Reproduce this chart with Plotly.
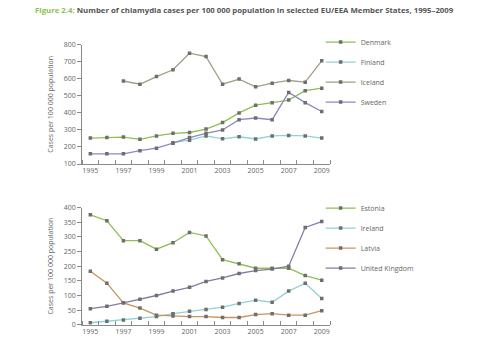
import plotly.graph_objects as go

years = list(range(1995, 2010))

# Top panel
denmark = [252, 256, 258, 245, 265, 280, 285, 305, 343, 400, 445, 460, 475, 530, 545]
finland = [None, None, None, None, None, 225, 240, 265, 248, 260, 247, 265, 268, 265, 252]
iceland = [None, None, 587, 568, 613, 653, 750, 730, 568, 598, 553, 574, 590, 580, 705]
sweden = [160, 160, 160, 178, 193, 222, 255, 280, 300, 360, 370, 360, 520, 460, 408]

# Bottom panel
estonia = [375, 355, 287, 287, 258, 280, 315, 303, 222, 208, 193, 193, 193, 168, 152]
ireland = [7, 12, 16, 22, 28, 38, 46, 52, 60, 73, 84, 77, 115, 142, 90]
latvia = [183, 142, 75, 57, 33, 30, 28, 28, 25, 25, 35, 38, 33, 33, 48]
uk = [55, 63, 75, 87, 100, 115, 128, 148, 160, 175, 185, 190, 200, 332, 352]

top_series = [("Denmark", denmark, "#8cc152"), ("Finland", finland, "#8fd3d3"),
              ("Iceland", iceland, "#a39d82"), ("Sweden", sweden, "#8c88c4")]
bottom_series = [("Estonia", estonia, "#8cc152"), ("Ireland", ireland, "#8fd3d3"),
                 ("Latvia", latvia, "#c8955a"), ("United Kingdom", uk, "#837ca6")]

FONT = "Open Sans"
fig = go.Figure()

for i, (name, vals, col) in enumerate(top_series):
    fig.add_trace(go.Scatter(x=years, y=vals, name=name, mode="lines+markers",
                             line=dict(color=col, width=1.3),
                             marker=dict(symbol="square", size=3.5, color="#6e6e6e"),
                             xaxis="x", yaxis="y", legend="legend",
                             legendgroup="t%d" % i, connectgaps=False))
for i, (name, vals, col) in enumerate(bottom_series):
    fig.add_trace(go.Scatter(x=years, y=vals, name=name, mode="lines+markers",
                             line=dict(color=col, width=1.3),
                             marker=dict(symbol="square", size=3.5, color="#6e6e6e"),
                             xaxis="x2", yaxis="y2", legend="legend2",
                             legendgroup="b%d" % i))

def xax(anchor):
    return dict(domain=[0.171, 0.6875], range=[1994.5, 2009.5], anchor=anchor,
                tick0=1995, dtick=2, ticks="", showgrid=False, zeroline=False,
                showline=True, linecolor="#8a8a8a", linewidth=1,
                tickfont=dict(family=FONT, size=7, color="#666"),
                minor=dict(tick0=1994.5, dtick=1, ticks="inside", ticklen=4,
                           tickcolor="#8a8a8a", showgrid=False))

def yax(anchor, dom, rng, dt):
    return dict(domain=dom, range=rng, dtick=dt, anchor=anchor, showgrid=False,
                zeroline=False, showline=True, linecolor="#8a8a8a", linewidth=1,
                ticks="outside", ticklen=4, tickcolor="#8a8a8a",
                tickfont=dict(family=FONT, size=7, color="#666"),
                title=dict(text="Cases per 100 000 population", standoff=9,
                           font=dict(family=FONT, size=7, color="#666")))

leg = dict(font=dict(family=FONT, size=7, color="#666"), bgcolor="rgba(0,0,0,0)",
           tracegroupgap=1, itemwidth=30, xanchor="left", yanchor="top",
           traceorder="grouped")

fig.update_layout(
    width=480, height=357, margin=dict(l=0, r=0, t=0, b=0),
    paper_bgcolor="white", plot_bgcolor="white", showlegend=True,
    xaxis=xax("y"), yaxis=yax("x", [0.543, 0.886], [100, 800], 100),
    xaxis2=xax("y2"), yaxis2=yax("x2", [0.081, 0.418], [0, 400], 50),
    legend=dict(x=0.668, y=0.935, **leg),
    legend2=dict(x=0.668, y=0.458, **leg),
    annotations=[dict(
        text="<b><span style='color:#8cc152'>Figure 2.4:</span> Number of chlamydia cases per 100 000 population in selected EU/EEA Member States, 1995–2009</b>",
        x=0.51, y=1 - 5 / 357, xref="paper", yref="paper", showarrow=False,
        xanchor="center", yanchor="middle",
        font=dict(family=FONT, size=7.8, color="#555"))],
)

fig.write_html("out.html", config={"displayModeBar": False},
               post_script="document.body.style.margin='0';document.body.style.padding='0';")
